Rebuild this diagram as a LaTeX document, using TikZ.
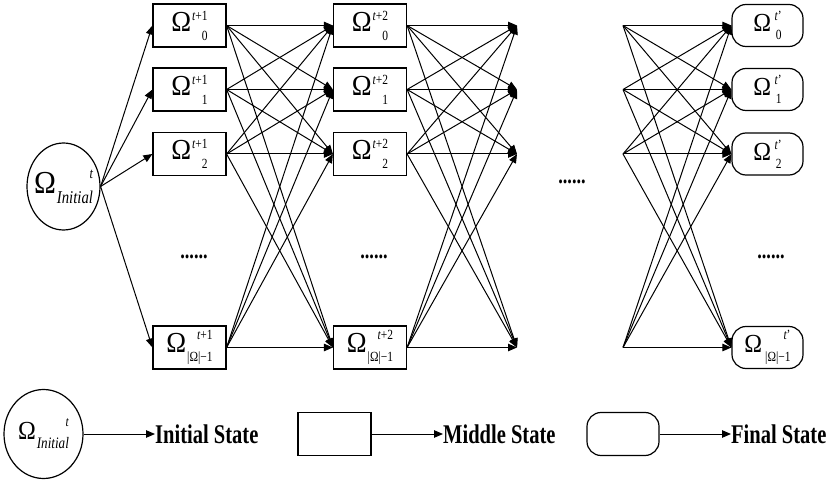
\documentclass[tikz,border=0pt]{standalone}
\usepackage{fontspec}
\setmainfont[FakeStretch=0.82]{Liberation Serif}
\newfontfamily\legfont[FakeStretch=0.76]{Liberation Serif}
\newfontfamily\omfont[FakeStretch=0.92]{Liberation Serif}
\usetikzlibrary{arrows.meta,shapes.geometric}

% State label: Omega with a right-aligned superscript/subscript stack
% #1 Omega size, #2 script size, #3 superscript, #4 subscript,
% #5 superscript raise, #6 subscript drop; \omgap is the space after Omega
\newlength\supw
\newlength\subw
\newlength\omgap
\setlength\omgap{1pt}
\newcommand\omlab[6]{%
  {\omfont\fontsize{#1}{#1}\selectfont Ω}\kern\omgap
  {\fontsize{#2}{#2}\selectfont
   \settowidth\supw{#3}\settowidth\subw{#4}%
   \ifdim\supw<\subw \setlength\supw{\subw}\fi
   \makebox[0pt][l]{\raisebox{#5}{\makebox[\supw][r]{#3}}}%
   \raisebox{-#6}{\makebox[\supw][r]{#4}}}}
\newcommand\tone{{\itshape t}+1}
\newcommand\ttwo{{\itshape t}+2}
\newcommand\tfin{{\itshape t}'}
\newcommand\last{|Ω|−1}
\newcommand\midlab[2]{\raisebox{-3pt}{\omlab{29}{14}{#1}{#2}{11pt}{9pt}}}
\newcommand\midlast[1]{\raisebox{-4pt}{\omlab{29}{14}{#1}{\last}{13pt}{9pt}}}
\newcommand\finlab[1]{\setlength\omgap{3.5pt}\raisebox{-4pt}{\omlab{26}{14}{\tfin}{#1}{11pt}{8pt}}}

\begin{document}
\begin{tikzpicture}[x=1pt,y=-1pt,
  midstate/.style={draw, line width=1.2pt, minimum width=73pt, minimum height=43pt, inner sep=0pt},
  finstate/.style={draw, rounded corners=14pt, line width=1.2pt, minimum width=71pt, minimum height=42pt, inner sep=0pt},
  inistate/.style={draw, ellipse, line width=1.2pt, minimum width=73pt, minimum height=87pt, inner sep=0pt},
  link/.style={line width=1pt, -{Triangle[length=9pt,width=7.5pt]}},
  ellips/.style={font=\legfont\bfseries\fontsize{24}{24}\selectfont, inner sep=0pt},
  legtext/.style={font=\legfont\bfseries\fontsize{27}{27}\selectfont, anchor=west, inner sep=0pt}]
\useasboundingbox (0,0) rectangle (833,481);

% initial state
\node[inistate] (init) at (63.5,186.5)
  {\makebox[0pt]{\raisebox{2pt}{\omlab{32}{15}{{\itshape t}}{\fontsize{18}{18}\selectfont\itshape Initial}{15pt}{10pt}}}};

% first middle column
\node[midstate] (a0) at (189.5,25.5)  {\midlab{\tone}{0}};
\node[midstate] (a1) at (189.5,89.5)  {\midlab{\tone}{1}};
\node[midstate] (a2) at (189.5,154)   {\midlab{\tone}{2}};
\node[midstate] (a3) at (189.5,347.5) {\midlast{\tone}};

% second middle column
\node[midstate] (b0) at (370,25.5)  {\midlab{\ttwo}{0}};
\node[midstate] (b1) at (370,89.5)  {\midlab{\ttwo}{1}};
\node[midstate] (b2) at (370,154)   {\midlab{\ttwo}{2}};
\node[midstate] (b3) at (370,347.5) {\midlast{\ttwo}};

% open ends around the elided columns
\foreach \i/\y in {0/25.5, 1/89.5, 2/154, 3/347.5} {
  \coordinate (c\i) at (517,\y);
  \coordinate (d\i) at (623,\y);
}

% final column
\node[finstate] (f0) at (767.5,25.5)  {\finlab{0}};
\node[finstate] (f1) at (767.5,89.5)  {\finlab{1}};
\node[finstate] (f2) at (767.5,154)   {\finlab{2}};
\node[finstate] (f3) at (767.5,347.5)
  {\setlength\omgap{3pt}\raisebox{-4pt}{\omlab{26}{14}{\tfin}{\last}{13pt}{9pt}}};

% transitions
\foreach \i in {0,...,3} \draw[link] (init.east) -- (a\i.west);
\foreach \i in {0,...,3} \foreach \j in {0,...,3} {
  \draw[link] (a\i.east) -- (b\j.west);
  \draw[link] (b\i.east) -- (c\j);
  \draw[link] (d\i) -- (f\j.west);
}

% elision marks
\node[ellips] (e1) at (194,257) {......};
\node[ellips] (e2) at (374,257) {......};
\node[ellips] (e3) at (572,182) {......};
\node[ellips] (e4) at (771,257) {......};

% legend
\node[inistate, minimum width=79pt, minimum height=89pt] (lini) at (43.5,434)
  {\makebox[0pt]{\raisebox{6pt}{\omlab{26}{14}{{\itshape t}}{\fontsize{16}{16}\selectfont\itshape Initial}{13pt}{9pt}}}};
\node[legtext] (tini) at (155,434) {Initial State};
\draw[link] (lini.east) -- (tini.west);

\node[midstate] (lmid) at (334.5,434) {};
\node[legtext] (tmid) at (443,434) {Middle State};
\draw[link] (lmid.east) -- (tmid.west);

\node[finstate, minimum width=72pt, minimum height=43pt] (lfin) at (623,434) {};
\node[legtext] (tfinal) at (731,434) {Final State};
\draw[link] (lfin.east) -- (tfinal.west);
\end{tikzpicture}
\end{document}
